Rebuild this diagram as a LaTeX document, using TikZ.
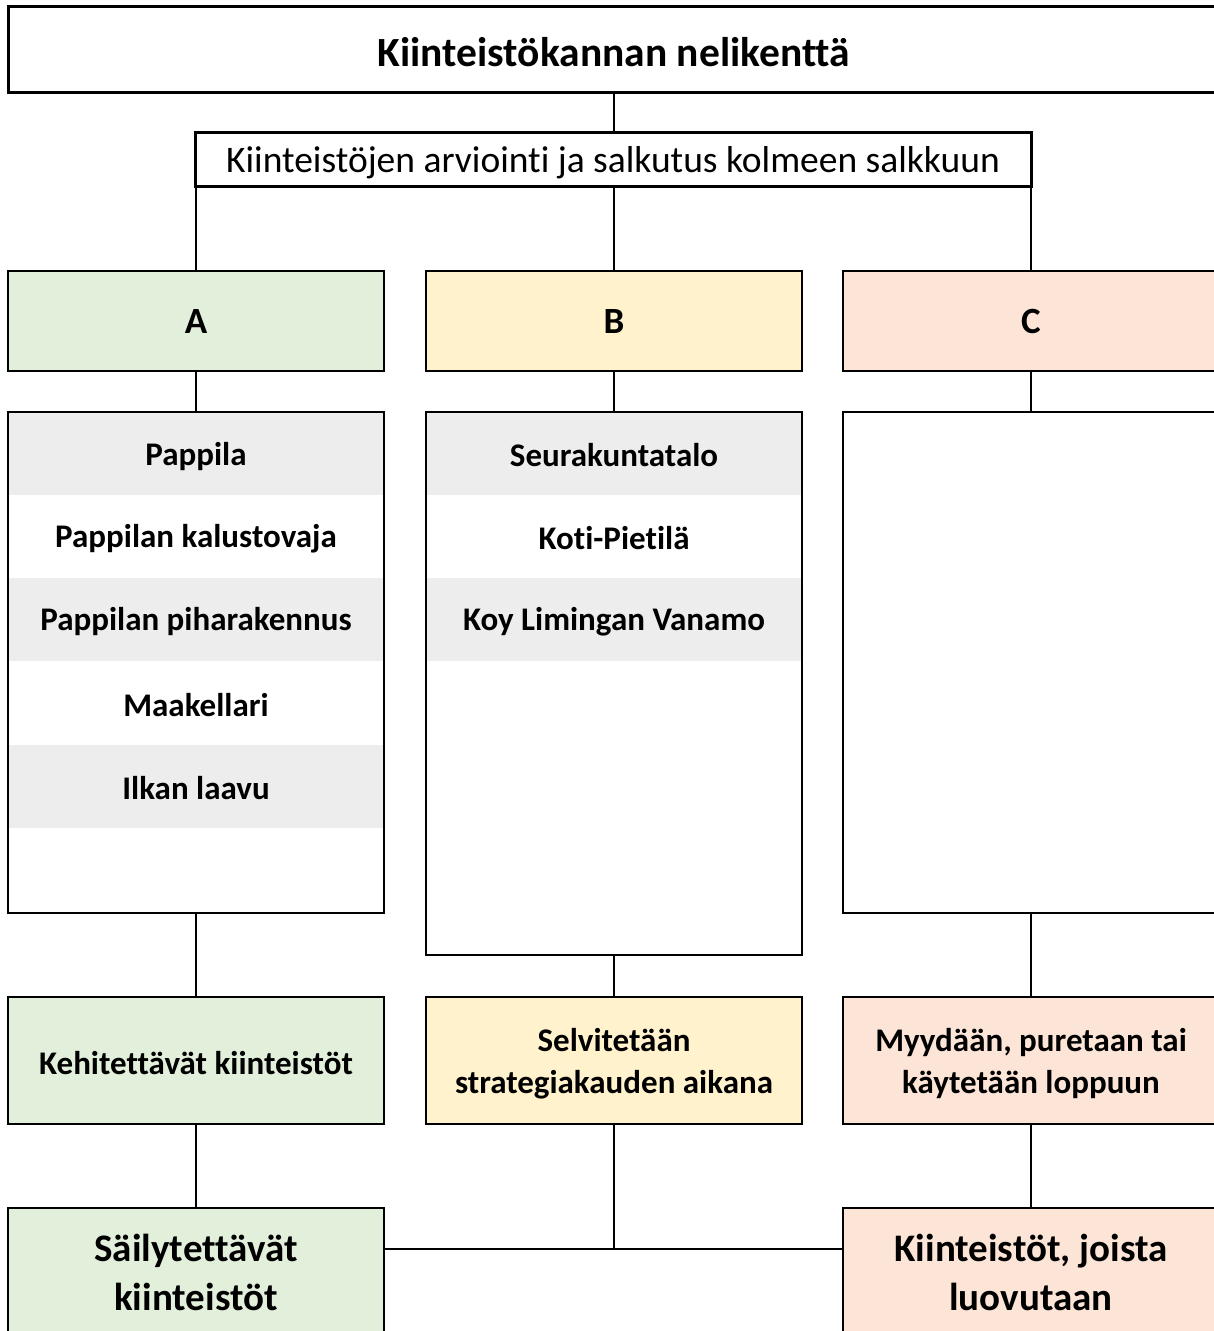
\documentclass[tikz,border=0pt]{standalone}
\usepackage{fontspec}
\setmainfont{Carlito}[Ligatures=NoCommon]
\definecolor{cgreen}{HTML}{E2EFDA}
\definecolor{cyellow}{HTML}{FFF2CC}
\definecolor{cpeach}{HTML}{FCE4D6}
\definecolor{cgray}{HTML}{EDEDED}
\newcommand{\dn}[2]{\raisebox{#1}[\height][\depth]{#2}}
\newcommand{\twoline}[3]{\raisebox{#1}[\height][\depth]{\begin{tabular}{@{}c@{}}#2\\#3\end{tabular}}}
\tikzset{
  boxbase/.style={draw, line width=2pt, inner sep=0pt, align=center, minimum width=376pt},
  hdrbox/.style={boxbase, minimum height=100pt, font=\bfseries\fontsize{37}{44}\selectfont},
  listbox/.style={boxbase},
  rowcell/.style={inner sep=0pt, minimum width=374pt, minimum height=83.5pt, font=\bfseries\fontsize{33}{40}\selectfont},
  midbox/.style={boxbase, minimum height=127pt, font=\bfseries\fontsize{33}{42}\selectfont},
  endbox/.style={boxbase, minimum height=128pt, font=\bfseries\fontsize{39}{49}\selectfont},
  conn/.style={line width=2pt},
}
\begin{document}
\begin{tikzpicture}[x=1pt,y=-1pt]
\useasboundingbox (0,0) rectangle (1214,1331);
\clip (0,0) rectangle (1214,1331);
% title and subtitle
\node[draw, line width=3pt, minimum width=1212pt, minimum height=86pt, inner sep=0pt,
      font=\bfseries\fontsize{41.5}{48}\selectfont] (title) at (614,49) {\dn{-3pt}{Kiinteistökannan nelikenttä}};
\node[draw, line width=3pt, minimum width=836pt, minimum height=54pt, inner sep=0pt,
      font=\fontsize{37.5}{44}\selectfont] (sub) at (613,159) {\dn{-4pt}{Kiinteistöjen arviointi ja salkutus kolmeen salkkuun}};
% header boxes
\node[hdrbox, fill=cgreen] (A) at (196,321) {A};
\node[hdrbox, fill=cyellow] (B) at (614,321) {B};
\node[hdrbox, fill=cpeach] (C) at (1031,321) {C};
% list rows A
\node[rowcell, fill=cgray] (a1) at (196,453.5) {\dn{-3pt}{Pappila}};
\node[rowcell] (a2) at (196,536.5) {\dn{-2pt}{Pappilan kalustovaja}};
\node[rowcell, fill=cgray] (a3) at (196,619.5) {\dn{-2pt}{Pappilan piharakennus}};
\node[rowcell] (a4) at (196,703) {\dn{-2pt}{Maakellari}};
\node[rowcell, fill=cgray] (a5) at (196,786.5) {\dn{-2pt}{Ilkan laavu}};
% list rows B
\node[rowcell, fill=cgray] (b1) at (614,453.5) {\dn{-2pt}{Seurakuntatalo}};
\node[rowcell] (b2) at (614,536.5) {\dn{-2pt}{Koti-Pietilä}};
\node[rowcell, fill=cgray] (b3) at (614,619.5) {\dn{-2pt}{Koy Limingan Vanamo}};
% list frames
\node[listbox, minimum height=501pt] (LA) at (196,662.5) {};
\node[listbox, minimum height=543pt] (LB) at (614,683.5) {};
\node[listbox, minimum height=501pt] (LC) at (1031,662.5) {};
% middle boxes
\node[midbox, fill=cgreen] (MA) at (196,1060.5) {\dn{-3pt}{Kehitettävät kiinteistöt}};
\node[midbox, fill=cyellow] (MB) at (614,1060.5) {\twoline{-4pt}{Selvitetään}{strategiakauden aikana}};
\node[midbox, fill=cpeach] (MC) at (1031,1060.5) {\twoline{-4pt}{Myydään, puretaan tai}{käytetään loppuun}};
% end boxes
\node[endbox, fill=cgreen] (EA) at (196,1272) {Säilytettävät\\kiinteistöt};
\node[endbox, fill=cpeach] (EC) at (1031,1272) {Kiinteistöt, joista\\luovutaan};
% connectors
\draw[conn] (title.south) -- (title.south |- sub.north);
\draw[conn] (A.north) -- (A.north |- sub.south);
\draw[conn] (B.north) -- (B.north |- sub.south);
\draw[conn] (C.north) -- (C.north |- sub.south);
\draw[conn] (A.south) -- (LA.north);
\draw[conn] (B.south) -- (LB.north);
\draw[conn] (C.south) -- (LC.north);
\draw[conn] (LA.south) -- (MA.north);
\draw[conn] (LB.south) -- (MB.north);
\draw[conn] (LC.south) -- (MC.north);
\draw[conn] (MA.south) -- (EA.north);
\draw[conn] (MC.south) -- (EC.north);
\coordinate (J) at (614,1249);
\draw[conn] (MB.south) -- (J);
\draw[conn] (EA.east |- J) -- (EC.west |- J);
\end{tikzpicture}
\end{document}
